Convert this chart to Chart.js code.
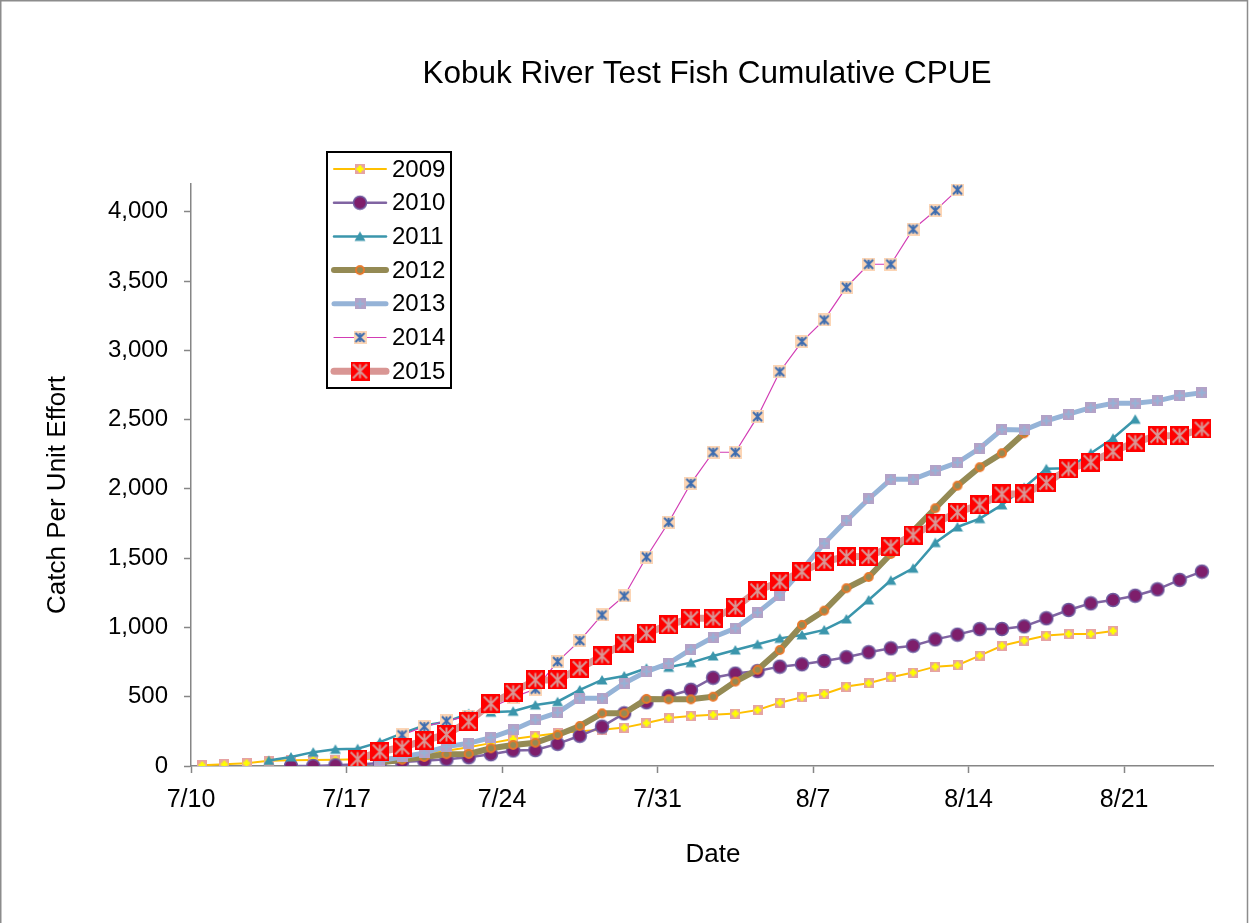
<!DOCTYPE html>
<html>
<head>
<meta charset="utf-8">
<title>Kobuk River Test Fish Cumulative CPUE</title>
<script src="https://cdn.jsdelivr.net/npm/chart.js@4.4.1/dist/chart.umd.min.js"></script>
<style>
  html, body { margin: 0; padding: 0; background: #fff; }
  canvas { display: block; }
</style>
</head>
<body>
<canvas id="graph1" width="1249" height="923"></canvas>
<script>
// one entry per day, 7/10 .. 8/24
const dates = [
  '7/10','7/11','7/12','7/13','7/14','7/15','7/16','7/17','7/18','7/19',
  '7/20','7/21','7/22','7/23','7/24','7/25','7/26','7/27','7/28','7/29',
  '7/30','7/31','8/1','8/2','8/3','8/4','8/5','8/6','8/7','8/8',
  '8/9','8/10','8/11','8/12','8/13','8/14','8/15','8/16','8/17','8/18',
  '8/19','8/20','8/21','8/22','8/23','8/24'
];
const tickLabels = ['7/10', '7/17', '7/24', '7/31', '8/7', '8/14', '8/21'];
const yTicks = [0, 500, 1000, 1500, 2000, 2500, 3000, 3500, 4000];
const years = ['2009', '2010', '2011', '2012', '2013', '2014', '2015'];

const cpue2009 = [5,12,20,38,42,44,46,48,55,70, 90,110,135,165,195,216,236,250,262,277,
  310,347,360,370,378,404,457,496,520,573, 597,640,674,717,727,796,868,905,941,953,
  953,975,null,null,null,null];
const cpue2010 = [null,null,null,null,0,0,5,12,20,28, 38,48,63,85,112,115,160,218,284,380,
  460,505,550,637,667,685,717,734,758,785, 821,849,868,914,948,988,989,1008,1066,1126,
  1174,1198,1229,1275,1343,1403];
const cpue2011 = [null,null,null,40,65,100,120,125,172,235, 293,320,378,388,395,440,464,549,621,650,
  705,712,746,794,837,878,921,946,982,1061, 1198,1340,1427,1612,1725,1785,1884,2010,2145,2149,
  2257,2365,2502,null,null,null];
const cpue2012 = [null,null,null,null,null,null,null,null,25,45, 65,85,87,128,152,168,224,289,380,380,
  484,481,481,500,609,695,837,1018,1121,1283, 1364,1530,1696,1860,2023,2156,2257,2401,null,null,
  null,null,null,null,null,null];
const cpue2013 = [null,null,null,null,null,null,null,null,40,65, 95,140,164,205,260,332,385,489,489,597,
  681,741,842,929,994,1107,1234,1415,1607,1771, 1927,2069,2069,2132,2190,2293,2428,2425,2491,2539,
  2586,2618,2618,2635,2673,2694];
const cpue2014 = [null,null,null,null,null,null,null,null,null,224, 284,325,360,420,495,555,753,905,1090,1227,
  1508,1759,2040,2264,2264,2521,2845,3063,3219,3455, 3621,3621,3874,4008,4158,null,null,null,null,null,
  null,null,null,null,null,null];
const cpue2015 = [null,null,null,null,null,null,null,50,103,135, 183,228,320,450,532,621,621,705,794,886,
  958,1018,1066,1066,1145,1265,1330,1403,1475,1511, 1511,1583,1667,1752,1831,1884,1963,1963,2045,2144,
  2192,2269,2337,2384,2384,2432];
const allSeries = [cpue2009, cpue2010, cpue2011, cpue2012, cpue2013, cpue2014, cpue2015];

const lineColors = ['#FFC000', '#8064A2', '#3B96AC', '#948A54', '#95B3D7', '#D23CB4', '#D99694'];
const lineWidths = [2, 2.5, 2.5, 6, 5, 1.2, 7];

const FONT = "'Liberation Sans', Arial, sans-serif";

function marker(size, paint) {
  const c = document.createElement('canvas');
  c.width = size;
  c.height = size;
  paint(c.getContext('2d'), size);
  return c;
}

function star(g, s, pad, color, w) {
  g.strokeStyle = color;
  g.lineWidth = w;
  g.beginPath();
  g.moveTo(s / 2, pad); g.lineTo(s / 2, s - pad);
  g.moveTo(pad, pad); g.lineTo(s - pad, s - pad);
  g.moveTo(s - pad, pad); g.lineTo(pad, s - pad);
  g.stroke();
}

const markers = [
  marker(10, (g, s) => {
    g.fillStyle = '#E6A3A3'; g.fillRect(0, 0, s, s);
    g.fillStyle = '#FFFF00'; g.fillRect(3.5, 1.5, 3, 7); g.fillRect(1.5, 3.5, 7, 3);
  }),
  marker(16, (g, s) => {
    g.beginPath(); g.arc(8, 8, 6.5, 0, Math.PI * 2);
    g.fillStyle = '#7E1E6B'; g.fill();
    g.lineWidth = 1.5; g.strokeStyle = '#6E5BA0'; g.stroke();
  }),
  marker(12, (g, s) => {
    g.beginPath(); g.moveTo(6, 1); g.lineTo(11.5, 10.5); g.lineTo(0.5, 10.5); g.closePath();
    g.fillStyle = '#3B96AC'; g.fill();
  }),
  marker(12, (g, s) => {
    g.beginPath(); g.arc(6, 6, 4, 0, Math.PI * 2);
    g.fillStyle = '#948A54'; g.fill();
    g.lineWidth = 2; g.strokeStyle = '#E8782A'; g.stroke();
  }),
  marker(11, (g, s) => {
    g.fillStyle = '#B3A2C7'; g.fillRect(0, 0, s, s);
    g.strokeStyle = '#95B3D7'; g.lineWidth = 2;
    g.beginPath(); g.moveTo(5.5, 1.5); g.lineTo(5.5, 9.5); g.moveTo(1.5, 5.5); g.lineTo(9.5, 5.5); g.stroke();
  }),
  marker(13, (g, s) => {
    g.fillStyle = '#FCD5B5'; g.fillRect(0, 0, s, s);
    star(g, s, 2, '#3E6DB0', 2);
  }),
  marker(19, (g, s) => {
    g.fillStyle = '#FF0000'; g.fillRect(0, 0, s, s);
    star(g, s, 2.5, '#D99694', 2);
  })
];

const datasets = years.map((yr, i) => ({
  label: yr,
  data: allSeries[i].map((v, d) => ({ x: d, y: v })).filter(p => p.y !== null),
  borderColor: lineColors[i],
  backgroundColor: lineColors[i],
  borderWidth: lineWidths[i],
  pointStyle: markers[i],
  pointRadius: markers[i].width / 2,
  pointHoverRadius: markers[i].width / 2,
  tension: 0,
  fill: false,
  order: years.length - 1 - i
}));

const decor = {
  id: 'decor',
  afterDraw(chart) {
    const ctx = chart.ctx;
    ctx.save();
    // outer frame
    ctx.strokeStyle = '#8C8C8C';
    ctx.lineWidth = 1.5;
    ctx.beginPath();
    ctx.moveTo(0.75, 923); ctx.lineTo(0.75, 0.75); ctx.lineTo(1247.5, 0.75); ctx.lineTo(1247.5, 923);
    ctx.stroke();

    ctx.fillStyle = '#000';
    ctx.textAlign = 'center';
    ctx.textBaseline = 'middle';
    ctx.font = '31.5px ' + FONT;
    ctx.fillText('Kobuk River Test Fish Cumulative CPUE', 707, 74);
    ctx.font = '26px ' + FONT;
    ctx.fillText('Date', 713, 855);
    ctx.save();
    ctx.translate(58, 495);
    ctx.rotate(-Math.PI / 2);
    ctx.fillText('Catch Per Unit Effort', 0, 0);
    ctx.restore();

    // legend
    ctx.fillStyle = '#fff';
    ctx.fillRect(327, 152, 124, 236);
    ctx.strokeStyle = '#000';
    ctx.lineWidth = 2;
    ctx.strokeRect(327, 152, 124, 236);
    ctx.lineCap = 'round';
    years.forEach((yr, i) => {
      const y = 169 + i * 33.7;
      ctx.strokeStyle = lineColors[i];
      ctx.lineWidth = lineWidths[i];
      ctx.beginPath();
      ctx.moveTo(334, y);
      ctx.lineTo(386, y);
      ctx.stroke();
      const m = markers[i];
      ctx.drawImage(m, 360 - m.width / 2, y - m.height / 2);
      ctx.fillStyle = '#000';
      ctx.textAlign = 'left';
      ctx.font = '24px ' + FONT;
      ctx.fillText(yr, 392, y + 1);
    });
    ctx.restore();
  }
};

const axisGrey = '#868686';

const config = {
  type: 'line',
  data: { datasets: datasets },
  options: {
    responsive: false,
    animation: false,
    devicePixelRatio: 1,
    layout: { padding: { top: 184, right: 36, bottom: 0, left: 0 } },
    plugins: {
      legend: { display: false },
      title: { display: false },
      tooltip: { enabled: false }
    },
    scales: {
      x: {
        type: 'linear',
        min: -0.5,
        max: 45.5,
        afterBuildTicks: (s) => {
          s.ticks = tickLabels.map(l => ({ value: dates.indexOf(l) - 0.5 }));
        },
        afterFit: (s) => { s.height = 157; },
        ticks: {
          autoSkip: false,
          maxRotation: 0,
          padding: 12,
          color: '#000',
          font: { family: FONT, size: 25 },
          callback: (v) => dates[Math.round(v + 0.5)]
        },
        grid: { drawOnChartArea: false, drawTicks: true, tickLength: 7, tickColor: axisGrey, tickWidth: 1.5 },
        border: { color: axisGrey, width: 1.5 }
      },
      y: {
        min: 0,
        max: 4200,
        afterBuildTicks: (s) => {
          s.ticks = yTicks.map(v => ({ value: v }));
        },
        afterFit: (s) => { s.width = 191; },
        ticks: {
          autoSkip: false,
          padding: 16,
          color: '#000',
          font: { family: FONT, size: 24 },
          callback: (v) => v.toLocaleString('en-US')
        },
        grid: { drawOnChartArea: false, drawTicks: true, tickLength: 7, tickColor: axisGrey, tickWidth: 1.5 },
        border: { color: axisGrey, width: 1.5 }
      }
    }
  },
  plugins: [decor]
};

new Chart(document.querySelector('#graph1'), config);
</script>
</body>
</html>
